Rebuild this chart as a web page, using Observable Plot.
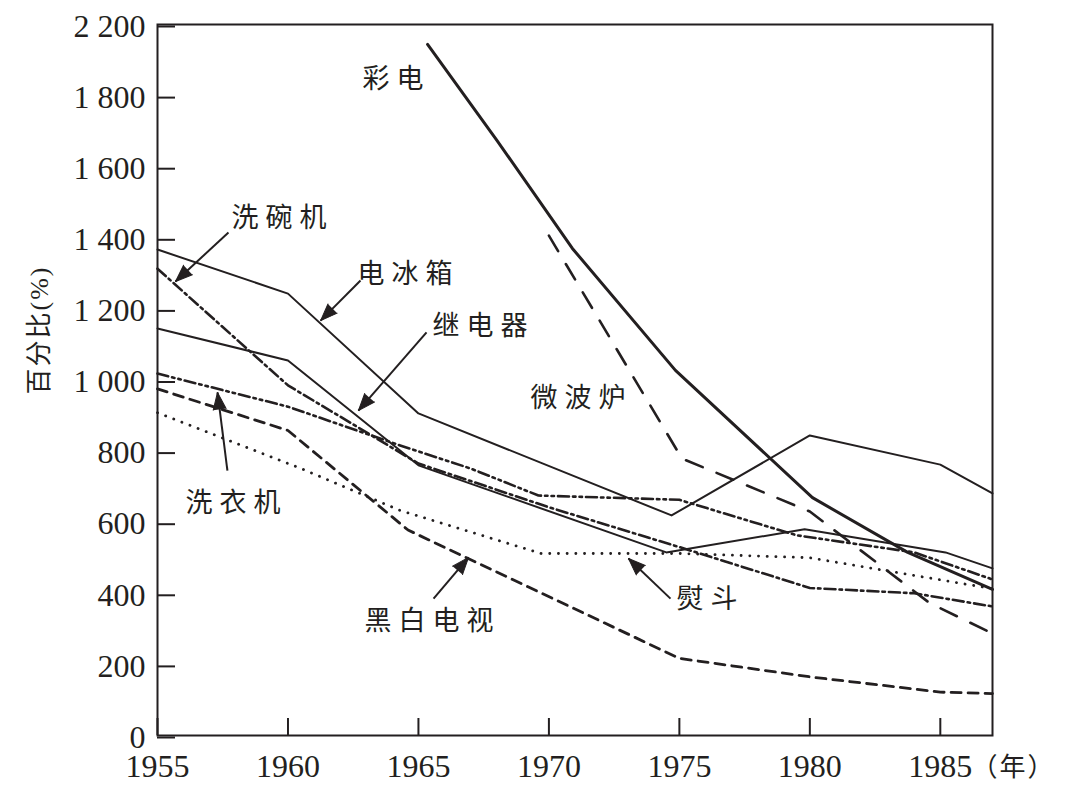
<!DOCTYPE html>
<html>
<head>
<meta charset="utf-8">
<script src="https://cdn.jsdelivr.net/npm/d3@7"></script>
<script src="https://cdn.jsdelivr.net/npm/@observablehq/plot@0.6"></script>
<style>
  html, body { margin: 0; padding: 0; background: #fff; }
  g[font-size="27"] text { letter-spacing: 7px; }
  g[font-size="26"] text { letter-spacing: 2px; }
</style>
</head>
<body>
<script>
// ---------- data ----------
const caidianYears   = [1965.35, 1968, 1970.9, 1974.85, 1980.1, 1983.75, 1987];
const caidianValues  = [1944, 1675, 1370, 1027, 669, 515, 411];

const bingxiangYears  = [1955, 1960, 1965, 1974.7, 1980, 1985, 1987];
const bingxiangValues = [1367, 1243, 906, 619, 844, 762, 681];

const jidianqiYears  = [1955, 1960, 1965, 1974.5, 1979.8, 1985.2, 1987];
const jidianqiValues = [1145, 1055, 760, 515, 580, 515, 470];

const weiboluYears  = [1970, 1975.1, 1980, 1984.6, 1987];
const weiboluValues = [1406, 779, 630, 372, 287];

const xiwanjiYears  = [1955, 1960, 1965, 1970, 1975, 1980, 1984, 1987];
const xiwanjiValues = [1313, 985, 765, 642, 530, 415, 400, 363];

const xiyijiYears  = [1955, 1960, 1964.3, 1967, 1969.6, 1975, 1979.5, 1984, 1987];
const xiyijiValues = [1018, 925, 816, 751, 675, 663, 563, 515, 439];

const yundouYears  = [1955, 1960.5, 1964.3, 1969.7, 1975, 1980, 1987];
const yundouValues = [908, 751, 633, 512, 512, 500, 413];

const heibaiYears  = [1955, 1960, 1964.6, 1975, 1980, 1985, 1987];
const heibaiValues = [975, 858, 578, 217, 165, 122, 118];

const seriesNames = ["彩电", "电冰箱", "继电器", "微波炉", "洗碗机", "洗衣机", "熨斗", "黑白电视"];

// tick values and labels
const xTicks = [1955, 1960, 1965, 1970, 1975, 1980, 1985];
const yTicks = [0, 200, 400, 600, 800, 1000, 1200, 1400, 1600, 1800, 2000];
const yTickLabels = ["0", "200", "400", "600", "800", "1 000", "1 200", "1 400", "1 600", "1 800", "2 200"];

// series label anchors (data units)
const labelTexts  = ["彩电", "洗碗机", "电冰箱", "继电器", "微波炉", "洗衣机", "熨斗", "黑白电视"];
const labelYears  = [1964.16, 1959.79, 1964.62, 1967.49, 1971.25, 1958.03, 1976.19, 1965.54];
const labelValues = [1845, 1454, 1297, 1150, 948, 653, 383, 321];

// annotation arrows (tail -> head, data units)
const arrowFromYear  = [1957.72, 1962.78, 1965.31, 1957.68, 1965.58, 1974.66];
const arrowFromValue = [1415, 1280, 1134, 745, 385, 385];
const arrowToYear    = [1955.69, 1961.25, 1962.70, 1957.30, 1966.92, 1973.05];
const arrowToValue   = [1277, 1167, 914, 965, 501, 498];

// ---------- build tables ----------
const seriesData = {
  "彩电":   [caidianYears, caidianValues],
  "电冰箱": [bingxiangYears, bingxiangValues],
  "继电器": [jidianqiYears, jidianqiValues],
  "微波炉": [weiboluYears, weiboluValues],
  "洗碗机": [xiwanjiYears, xiwanjiValues],
  "洗衣机": [xiyijiYears, xiyijiValues],
  "熨斗":   [yundouYears, yundouValues],
  "黑白电视": [heibaiYears, heibaiValues]
};
const rows = name => seriesData[name][0].map((yr, i) => ({year: yr, value: seriesData[name][1][i]}));

const ink = "#231f20";
const styles = {
  "彩电":   {strokeWidth: 3},
  "电冰箱": {strokeWidth: 2},
  "继电器": {strokeWidth: 2},
  "微波炉": {strokeWidth: 2.6, strokeDasharray: "18,15"},
  "洗碗机": {strokeWidth: 2.6, strokeDasharray: "11,4,2.5,4"},
  "洗衣机": {strokeWidth: 2.6, strokeDasharray: "11,4,2.5,4,2.5,4"},
  "熨斗":   {strokeWidth: 2.8, strokeDasharray: "0.1,8.6", strokeLinecap: "round"},
  "黑白电视": {strokeWidth: 2.8, strokeDasharray: "10,7"}
};

const labels = labelTexts.map((t, i) => ({text: t, year: labelYears[i], value: labelValues[i]}));
const arrows = arrowFromYear.map((_, i) => ({
  x1: arrowFromYear[i], y1: arrowFromValue[i], x2: arrowToYear[i], y2: arrowToValue[i]
}));

const cjk = "'Noto Sans CJK SC'";
const serif = "'Liberation Serif', 'Times New Roman', 'DejaVu Serif', serif";

const layout = {
  width: 1068,
  height: 801,
  marginLeft: 157,
  marginRight: 76,
  marginTop: 24,
  marginBottom: 66,
  x: {domain: [1955, 1987]},
  y: {domain: [0, 2000]},
  style: {fontFamily: serif, background: "#fff", color: ink}
};

function baseMarks() {
  return [
    ...seriesNames.map(name => Plot.line(rows(name), {
      x: "year", y: "value", stroke: ink, strokeLinejoin: "round", ...styles[name]
    })),
    Plot.frame({stroke: ink, strokeWidth: 2}),
    Plot.axisX(xTicks, {
      tickSize: -17, tickPadding: 36, tickFormat: d => String(d),
      fontSize: 32, fontFamily: serif, label: null, stroke: ink, strokeWidth: 2
    }),
    Plot.axisY(yTicks, {
      tickSize: -18, tickPadding: 30, tickFormat: d => yTickLabels[yTicks.indexOf(d)],
      fontSize: 32, fontFamily: serif, label: null, dy: 2, stroke: ink, strokeWidth: 2
    }),
    Plot.text(["百分比(%)"], {
      frameAnchor: "left", dx: -118, dy: -50, rotate: -90,
      textAnchor: "middle", lineAnchor: "middle",
      fontSize: 26, fontFamily: `${serif.replace(", serif", "")}, ${cjk}`, fill: ink
    }),
    Plot.text(["（年）"], {
      frameAnchor: "bottom-right", dx: 21, dy: 32,
      textAnchor: "middle", lineAnchor: "middle",
      fontSize: 26, fontFamily: cjk, fill: ink
    }),
    Plot.text(labels, {
      x: "year", y: "value", text: "text", fontSize: 27, fontFamily: cjk,
      textAnchor: "middle", lineAnchor: "middle", fill: ink
    }),
    Plot.link(arrows, {x1: "x1", y1: "y1", x2: "x2", y2: "y2", stroke: ink, strokeWidth: 2})
  ];
}

// first pass to obtain the scales for arrowhead orientation
const probe = Plot.plot({...layout, marks: baseMarks()});
const sx = probe.scale("x"), sy = probe.scale("y");
const heads = arrows.map(a => {
  const dx = sx.apply(a.x2) - sx.apply(a.x1);
  const dy = sy.apply(a.y2) - sy.apply(a.y1);
  return {...a, angle: Math.atan2(dx, -dy) * 180 / Math.PI};
});

const chart = Plot.plot({
  ...layout,
  marks: [
    ...baseMarks(),
    Plot.vector(heads, {
      x: "x2", y: "y2", rotate: "angle", length: 17, r: 6.5,
      shape: "spike", anchor: "end", fill: ink, stroke: ink, strokeWidth: 1
    })
  ]
});
document.body.appendChild(chart);
</script>
</body>
</html>
